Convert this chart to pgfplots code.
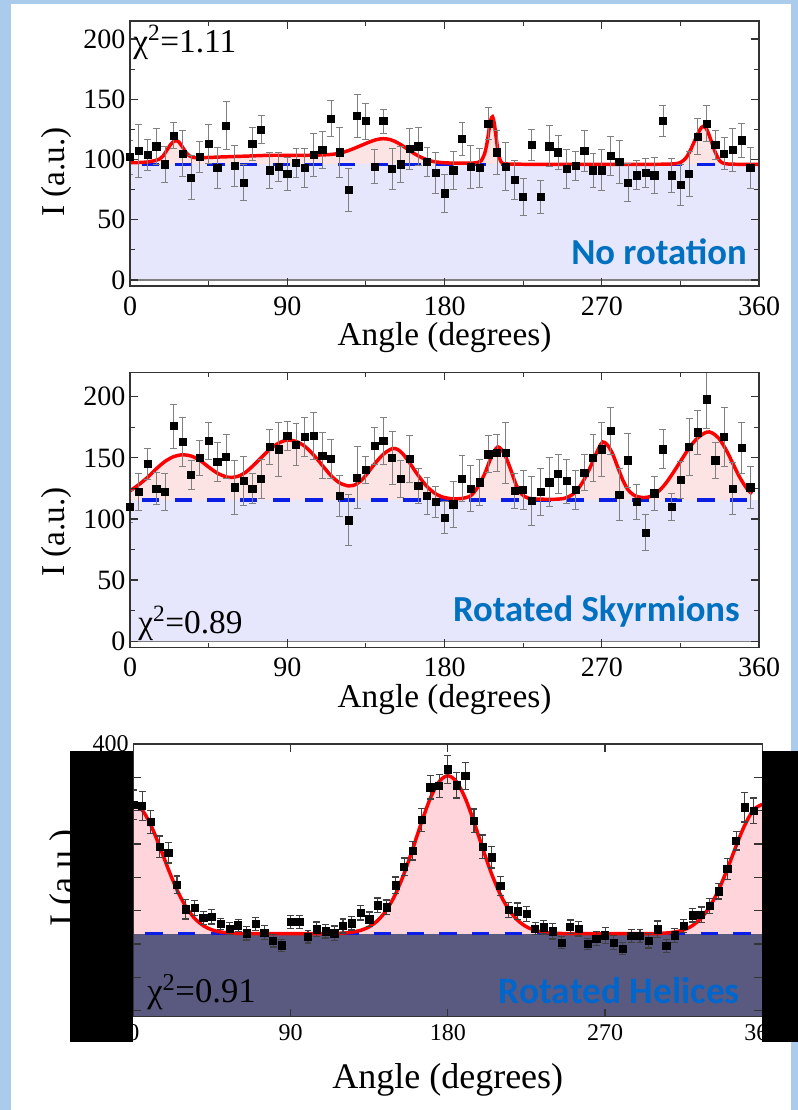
\documentclass[border=0pt]{standalone}
\usepackage{pgfplots}
\pgfplotsset{compat=1.18}
\usepackage{pgfplotstable}
\usepackage{fontspec}
\setmainfont{Liberation Serif}
\newfontfamily\calib{Carlito}
\definecolor{bgblue}{RGB}{170,203,236}
\definecolor{lav}{RGB}{230,230,252}
\definecolor{pinkA}{RGB}{253,228,228}
\definecolor{pinkB}{RGB}{255,212,218}
\definecolor{navy}{RGB}{90,90,128}
\definecolor{txtblue}{RGB}{0,112,192}
\definecolor{txtblueB}{RGB}{0,102,204}
\definecolor{dashblue}{RGB}{10,30,230}

\pgfplotstableread{
a v e
0 102 14
5 107 22
10 104 13
15 111 15
20 96 15
25 120 11
30 105 19
35 85 18
40 102 13
45 113 16
50 93 17
55 128 20
60 95 17
65 81 15
70 113 14
75 125 12
80 91 15
85 94 12
90 88 14
95 97 12
100 93 16
105 104 18
110 108 15
115 134 15
120 106 21
125 75 18
130 136 18
135 132 15
140 94 14
145 132 10
150 92 17
155 96 15
160 109 17
165 111 16
170 98 12
175 89 17
180 72 16
185 91 16
190 117 14
195 94 18
200 93 16
205 130 13
210 106 18
215 94 20
220 83 16
225 69 15
230 112 13
235 69 14
240 111 17
245 106 14
250 92 16
255 95 12
260 107 17
265 91 14
270 91 17
275 103 16
280 98 18
285 81 16
290 87 12
295 89 12
300 87 15
305 132 13
310 87 14
315 79 17
320 88 19
325 119 15
330 130 15
335 112 12
340 105 13
345 108 18
350 116 14
355 93 17
}\dataA

\pgfplotstableread{
a v e
0 110 13
5 122 15
10 145 13
15 125 13
20 122 15
25 176 18
30 163 20
35 136 12
40 150 14
45 164 15
50 147 16
55 151 18
60 126 22
65 131 20
70 125 12
75 133 16
80 159 14
85 157 22
90 168 12
95 161 17
100 167 16
105 168 19
110 152 19
115 149 16
120 119 17
125 99 21
130 134 25
135 140 11
140 160 15
145 164 19
150 150 22
155 133 15
160 149 19
165 127 14
170 119 15
175 114 13
180 101 13
185 112 19
190 133 19
195 125 19
200 130 19
205 153 15
210 154 15
215 154 25
220 123 14
225 124 16
230 115 20
235 122 19
240 130 20
245 137 16
250 131 18
255 124 16
260 138 15
265 150 19
270 157 22
275 172 19
280 120 21
285 148 22
290 114 14
295 89 15
300 121 14
305 157 16
310 110 11
315 132 15
320 159 23
325 171 18
330 198 24
335 148 15
340 167 24
345 125 21
350 158 21
355 126 17
}\dataB

\pgfplotstableread{
a v e
0 309 22
5 307 22
10 283 17
15 246 16
20 237 15.5
25 189 13
30 152 14.5
35 154 11
40 139 9.3
45 141 11
50 130 8.8
55 123 9.3
60 128 9.3
65 116 10
70 130 10
75 117 10.5
80 105 9.5
85 98 8.8
90 133 9.3
95 133 9.5
100 111 9.5
105 122 11
110 119 10
115 116 11
120 127 10.5
125 131 10
130 147 11
135 137 11
140 158 11
145 155 11
150 188 12.5
155 216 13
160 240 14
165 286 17.5
170 335 17.5
175 337 17.5
180 362 21
185 338 19
190 352 20.5
195 285 17.5
200 246 17.5
205 230 16
210 187 14.5
215 151 11
220 149 12.5
225 145 11
230 123 9.3
235 125 10
240 119 11.5
245 102 8.8
250 126 10
255 123 11
260 100 8.8
265 108 10.8
270 113 12
275 102 10.5
280 93 9.3
285 112 10
290 112 9.5
295 105 11
300 122 12.5
305 97 10
310 113 10.8
315 127 10
320 143 10
325 144 11.5
330 157 11
335 179 11.5
340 213 15.8
345 255 14
350 305 22
355 300 19
}\dataC

\pgfplotstableread{
a v
0 97.5
5 97.5
10 98
14 99
17 100.5
19 103
21 107.5
23 112
25 115
26.5 115.8
28 114.5
30 110.5
32 106
34 103
36 101.8
40 101.5
50 102
60 102.5
70 103
80 103.5
90 103.5
100 103.5
110 103.8
117 104.5
122 106
127 108.5
132 111.5
137 114.5
141 116.5
145 117.3
149 116.5
153 114
157 110.5
161 106.5
165 103
169 100.3
173 98.5
178 97.5
185 97
195 97
199 97.5
201 99
203 105
204.5 115
205.5 125
206.5 133
207.5 135.5
208.5 130
209.5 119
210.5 108
211.5 101
213 97
216 96.3
230 96
250 96
270 96
290 96
305 96.1
312 96.5
315 97.5
317 99.5
319 103
321 108.5
323 115
325 121.5
327 126.5
328 127.5
329.5 126.5
331 122
333 114
335 106
337 100
339 97.3
342 96.3
350 96
360 96
}\curveA

\pgfplotstableread{
a v
0 123
5 128
10 134
15 141
20 147
25 151
30 152.5
35 151.5
40 148
45 142.5
50 137.5
55 134.5
58 134
62 135
66 138
70 143
75 150
80 157
85 162
90 164.5
95 163.5
100 159.5
105 152.5
110 144
115 135.5
120 129.5
125 127
128 127.5
132 131
136 137.5
140 145
145 153
150 157.5
153 157
156 153.5
160 146
165 135.5
170 126.5
175 120.5
180 117.5
185 116.5
190 116.8
195 119
199 126
203 137
206 148
208.5 155.5
210.5 159
212.5 157
215 151
218 140
221 128
224 120.5
228 117
235 116.2
245 116.2
250 117.5
255 122
259 130
263 141
266 151
268.5 158.5
270.5 163
273 161
276 154
279 143
282 132
285 124
289 119
294 117.5
298 118.5
302 122
306 128
310 136
315 147
320 158
325 166.5
330 171
333 170.5
337 166
341 157
345 145.5
349 134
353 125
356 120.5
}\curveB

\pgfplotstableread{
a v
0 309.5
5 301.4
10 278.6
15 247
20 212.6
25 181.3
30 156.4
35 138.8
40 127.7
45 121.3
50 118.1
55 116.5
60 115.9
65 115.6
70 115.5
110 115.5
115 115.85
120 116.4
125 117.7
130 120.5
135 125.9
140 135.6
145 151.3
150 174.6
155 205.8
160 243.3
165 283
170 318.6
175 343.5
180 352.5
185 343.5
190 318.6
195 283
200 243.3
205 205.8
210 174.6
215 151.3
220 135.6
225 125.9
230 120.5
235 117.7
240 116.4
245 115.85
250 115.5
295 115.5
300 115.9
305 116.5
310 118.1
315 121.3
320 127.7
325 138.8
330 156.4
335 181.3
340 212.6
345 247
350 278.6
355 301.4
360 309.5
}\curveC

\pgfplotsset{
  panel/.style={
    scale only axis, width=471.75pt,
    xmin=0, xmax=360, xtick={0,90,180,270,360}, minor x tick num=1,
    minor y tick num=1,
    tick align=inside, axis on top,
    axis line style={line width=1pt, black!80},
    tick style={line width=0.9pt, black!80},
    major tick length=6pt, minor tick length=3.5pt,
    /pgf/number format/assume math mode=true,
    tick label style={font=\fontsize{21}{21}\selectfont},
    label style={font=\fontsize{25}{25}\selectfont},
    xlabel={Angle (degrees)}, ylabel={I (a.u.)},
    xticklabel style={yshift=-4.5pt},
  },
  dat/.style={only marks, mark=square*, mark size=2.7pt, black,
    error bars/.cd, y dir=both, y explicit,
    error bar style={line width=0.6pt, gray},
    error mark options={rotate=90, mark size=2.6pt, line width=0.6pt, gray}},
  fit/.style={red, line width=2.6pt, smooth, no marks},
  base/.style={dashblue, line width=2.7pt, dash pattern=on 13pt off 11.5pt, dash phase=-9pt},
}

\begin{document}
\begin{tikzpicture}
\fill[bgblue] (0pt,0pt) rectangle (598.5pt,832.5pt);
\fill[white] (8.25pt,0pt) rectangle (593.25pt,829.5pt);

% Panel 1
\begin{axis}[panel, at={(97.5pt,618pt)}, anchor=south west, height=198.75pt,
  ymin=-5, ymax=215, ytick={0,50,100,150,200},
  xlabel style={at={(axis description cs:0.5,-0.196)}, anchor=center},
  ylabel style={at={(axis description cs:-0.1176,0.43)}, anchor=center}]
\addplot[fill=pinkA, draw=none] table[x=a,y=v] {\curveA} \closedcycle;
\addplot[fill=lav, draw=none] coordinates {(0,0) (360,0) (360,96) (0,96)} -- cycle;
\addplot[gray, line width=0.8pt, no marks] coordinates {(0,0) (360,0)};
\addplot[base] coordinates {(0,96) (360,96)};
\addplot[fit] table[x=a,y=v] {\curveA};
\addplot[dat] table[x=a,y=v,y error=e] {\dataA};
\end{axis}

% Panel 2
\begin{axis}[panel, at={(97.5pt,347.025pt)}, anchor=south west, height=206.25pt,
  ymin=-5, ymax=220, ytick={0,50,100,150,200},
  xlabel style={at={(axis description cs:0.5,-0.1916)}, anchor=center},
  ylabel style={at={(axis description cs:-0.1176,0.419)}, anchor=center}]
\addplot[fill=pinkA, draw=none] table[x=a,y=v] {\curveB} \closedcycle;
\addplot[fill=lav, draw=none] coordinates {(0,0) (360,0) (360,115.5) (0,115.5)} -- cycle;
\addplot[gray, line width=0.8pt, no marks] coordinates {(0,0) (360,0)};
\addplot[base] coordinates {(0,115.5) (360,115.5)};
\addplot[fit] table[x=a,y=v] {\curveB};
\addplot[dat] table[x=a,y=v,y error=e] {\dataB};
\end{axis}

% Panel 3
\begin{axis}[panel, at={(99.975pt,69.975pt)}, anchor=south west, height=204.5pt,
  ymin=-9, ymax=400, ytick={0,50,...,400}, minor y tick num=0, minor x tick num=0,
  tick label style={font=\fontsize{18}{18}\selectfont},
  label style={font=\fontsize{27}{27}\selectfont},
  xticklabel style={yshift=2.5pt},
  xlabel style={at={(axis description cs:0.5,-0.232)}, anchor=center},
  ylabel style={at={(axis description cs:-0.107,0.509)}, anchor=center}]
\addplot[fill=pinkB, draw=none] table[x=a,y=v] {\curveC} \closedcycle;
\addplot[fill=navy, draw=none] coordinates {(0,-9) (360,-9) (360,115.5) (0,115.5)} -- cycle;
\addplot[base] coordinates {(0,115.5) (360,115.5)};
\addplot[fit] table[x=a,y=v] {\curveC};
\addplot[only marks, mark=square*, mark size=2.7pt, black,
    error bars/.cd, y dir=both, y explicit,
    error bar style={line width=0.8pt, black!75},
    error mark options={rotate=90, mark size=2.6pt, line width=0.8pt, black!75}]
  table[x=a,y=v,y error=e] {\dataC};
\end{axis}

% annotations
\node[anchor=west, inner sep=0, font=\fontsize{25}{25}\selectfont] at (99.75pt,801pt) {χ\textsuperscript{2}=1.11};
\node[anchor=west, inner sep=0, font=\fontsize{25}{25}\selectfont] at (103.5pt,365.25pt) {χ\textsuperscript{2}=0.89};
\node[anchor=west, inner sep=0, font=\fontsize{26}{26}\selectfont] at (110.25pt,88.725pt) {χ\textsuperscript{2}=0.91};
\node[anchor=east, inner sep=0, text=txtblue, font=\calib\bfseries\fontsize{27.5}{27.5}\selectfont] at (560.25pt,643.725pt) {No rotation};
\node[anchor=east, inner sep=0, text=txtblue, font=\calib\bfseries\fontsize{27.5}{27.5}\selectfont] at (555pt,373.725pt) {Rotated Skyrmions};
\node[anchor=east, inner sep=0, text=txtblueB, font=\calib\bfseries\fontsize{28}{28}\selectfont] at (555pt,89.625pt) {Rotated Helices};

% black masks
\fill[black] (52.5pt,269.25pt) rectangle (99.975pt,51.225pt);
\fill[black] (571.725pt,269.25pt) rectangle (598.5pt,51.225pt);

\pgfresetboundingbox
\path[use as bounding box] (0pt,0pt) rectangle (598.5pt,832.5pt);
\end{tikzpicture}
\end{document}
